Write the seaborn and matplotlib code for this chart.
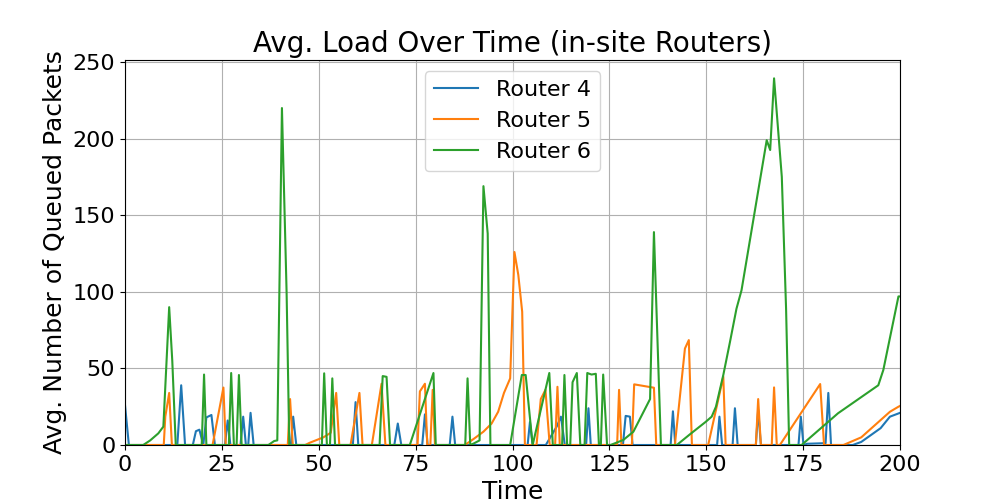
import pandas as pd
import matplotlib
matplotlib.use('Agg')
import matplotlib.pyplot as plt
import seaborn as sns

# Router 4 の負荷
r4_time = [0, 1, 13.5, 14.5, 15.5, 17.5, 18.3, 19.2, 20.2, 21, 22.3, 23.2, 25.8, 26.5, 27.2,
           29.8, 30.5, 31.2, 31.8, 32.4, 33.2, 42.8, 43.4, 44.2, 58.8, 59.5, 60.2, 69.5, 70.4,
           71.3, 76.7, 77.4, 78.1, 83.8, 84.5, 85.2, 103.9, 104.5, 105.2, 108.6, 111.4, 112.5,
           113.5, 119, 119.6, 120.2, 128.5, 129.2, 130.3, 131, 140.8, 141.4, 142, 152.8, 153.4,
           154.1, 156.8, 157.4, 158.1, 162.8, 163.4, 164.1, 173.8, 174.4, 175.1, 176, 180.8,
           181.5, 182.2, 187.8, 190, 195, 197.4, 199.6, 200]
r4_load = [26, 0, 0, 39, 0, 0, 9, 10, 0, 18, 19.6, 0, 0, 16, 0,
           0, 18.5, 0, 0, 21, 0, 0, 18.5, 0, 0, 28, 0, 0, 14,
           0, 0, 20, 0, 0, 18.5, 0, 0, 15, 0, 0, 12, 18.5,
           0, 0, 24, 0, 0, 19, 18.5, 0, 0, 22, 0, 0, 18.5,
           0, 0, 24, 0, 0, 23, 0, 0, 18.5, 0, 0.8, 1.2,
           34, 0, 0, 2, 11, 18.5, 20.6, 21]

# Router 5
r5_time = [0, 10, 10.4, 11.4, 12.1, 22.6, 25.4, 26, 42, 42.6, 43.3, 46.5, 47.7, 51.2, 53.1,
           54.5, 55.3, 58.2, 60.5, 61.3, 63.7, 66.2, 67.2, 75.5, 76.1, 77.4, 78, 78.8, 79.4,
           80, 87.7, 90, 92.5, 94.6, 96.3, 97.8, 99.4, 100.5, 101.5, 102.5, 103.2, 106.2,
           107.3, 108.5, 109.6, 111, 111.6, 112.2, 127, 127.5, 128.1, 130.8, 131.4, 136.5,
           137.1, 141.9, 144.5, 145.5, 146.3, 150.5, 154.4, 155, 162.8, 163.4, 164.1, 166.9,
           167.5, 168.2, 169, 179.4, 180.4, 185.4, 190, 197.4, 199.6, 200]
r5_load = [0, 0, 18.5, 34, 0, 0, 37.5, 0, 0, 30, 0, 0, 1.5, 5, 8,
           34, 0, 0, 34, 0, 0, 40, 0, 0, 35, 40, 0, 0, 36,
           0, 0, 4, 8.7, 14, 21.7, 34, 43.5, 126, 111, 87, 0, 0,
           30, 36, 0, 0, 38, 0, 0, 36, 0, 0, 39.6, 37.4,
           0, 0, 63, 68.5, 0, 0, 44.6, 0, 0, 30, 0, 0,
           37.6, 0, 0, 39.8, 0, 0, 5, 21.7, 25, 25.5]

# Router 6
r6_time = [0, 4.7, 6.5, 8.6, 9.9, 11.4, 12.2, 13.1, 19.8, 20.4, 21, 26.8, 27.4, 28.1, 28.8,
           29.4, 30.1, 37, 38.5, 39.3, 40.5, 41.1, 41.7, 42.4, 50.8, 51.4, 52.1, 52.9, 53.5,
           54.2, 65.7, 66.5, 67.5, 68.4, 73.5, 79.6, 80.2, 87.8, 88.4, 89.1, 90, 91.5, 92.5,
           93.6, 94.3, 99.4, 102.4, 103.4, 105.2, 109.5, 110.4, 112.8, 113.4, 114.1, 114.9,
           115.5, 116.6, 117.5, 118.6, 119.3, 120.4, 121.5, 122.3, 122.8, 123.4, 124.4,
           125.3, 128.6, 131.2, 135.5, 136.5, 138.3, 142.4, 145.8, 149.8, 151.4, 152.5,
           154.4, 156.1, 157.8, 159.1, 165.6, 166.5, 167.5, 169.5, 170.6, 171.4, 174.6,
           184, 194.4, 195.7, 199.6, 200]
r6_load = [0, 0, 3, 7.6, 12, 90, 55, 0, 0, 46, 0, 0, 47, 0, 0,
           45.7, 0, 0, 2.6, 3, 220, 160, 100, 0, 0, 46.8, 0, 0, 43.5,
           0, 0, 45, 44.5, 0, 0, 47, 0, 0, 43.5, 0, 1, 3, 169,
           138, 0, 0, 45.7, 45.7, 0, 47, 0, 0, 45.7, 0, 0,
           41, 47, 0, 0, 47, 46, 46.5, 0, 0, 46, 0,
           0, 3.3, 8.7, 30, 139, 0, 0, 7, 15, 18.5, 25,
           45.7, 67, 89, 101, 199, 192.6, 239.4, 175, 89, 0, 0,
           20.7, 39, 49, 97, 97]

routers = ['Router 4', 'Router 5', 'Router 6']
colors = ['#1f77b4', '#ff7f0e', '#2ca02c']

df = pd.concat([
    pd.DataFrame({'Time': r4_time, 'Load': r4_load, 'Router': routers[0]}),
    pd.DataFrame({'Time': r5_time, 'Load': r5_load, 'Router': routers[1]}),
    pd.DataFrame({'Time': r6_time, 'Load': r6_load, 'Router': routers[2]}),
], ignore_index=True)

fig, ax = plt.subplots(figsize=(10, 5), dpi=100)
sns.lineplot(data=df, x='Time', y='Load', hue='Router', palette=colors,
             estimator=None, linewidth=1.5, ax=ax)

ax.set_xlim(0, 200)
ax.set_ylim(bottom=0)
ax.grid(True)
ax.set_title('Avg. Load Over Time (in-site Routers)', fontsize=20)
ax.set_xlabel('Time', fontsize=18)
ax.set_ylabel('Avg. Number of Queued Packets', fontsize=18)
ax.tick_params(labelsize=16)
ax.legend(loc='upper center', fontsize=16)

plt.savefig('out.png')
